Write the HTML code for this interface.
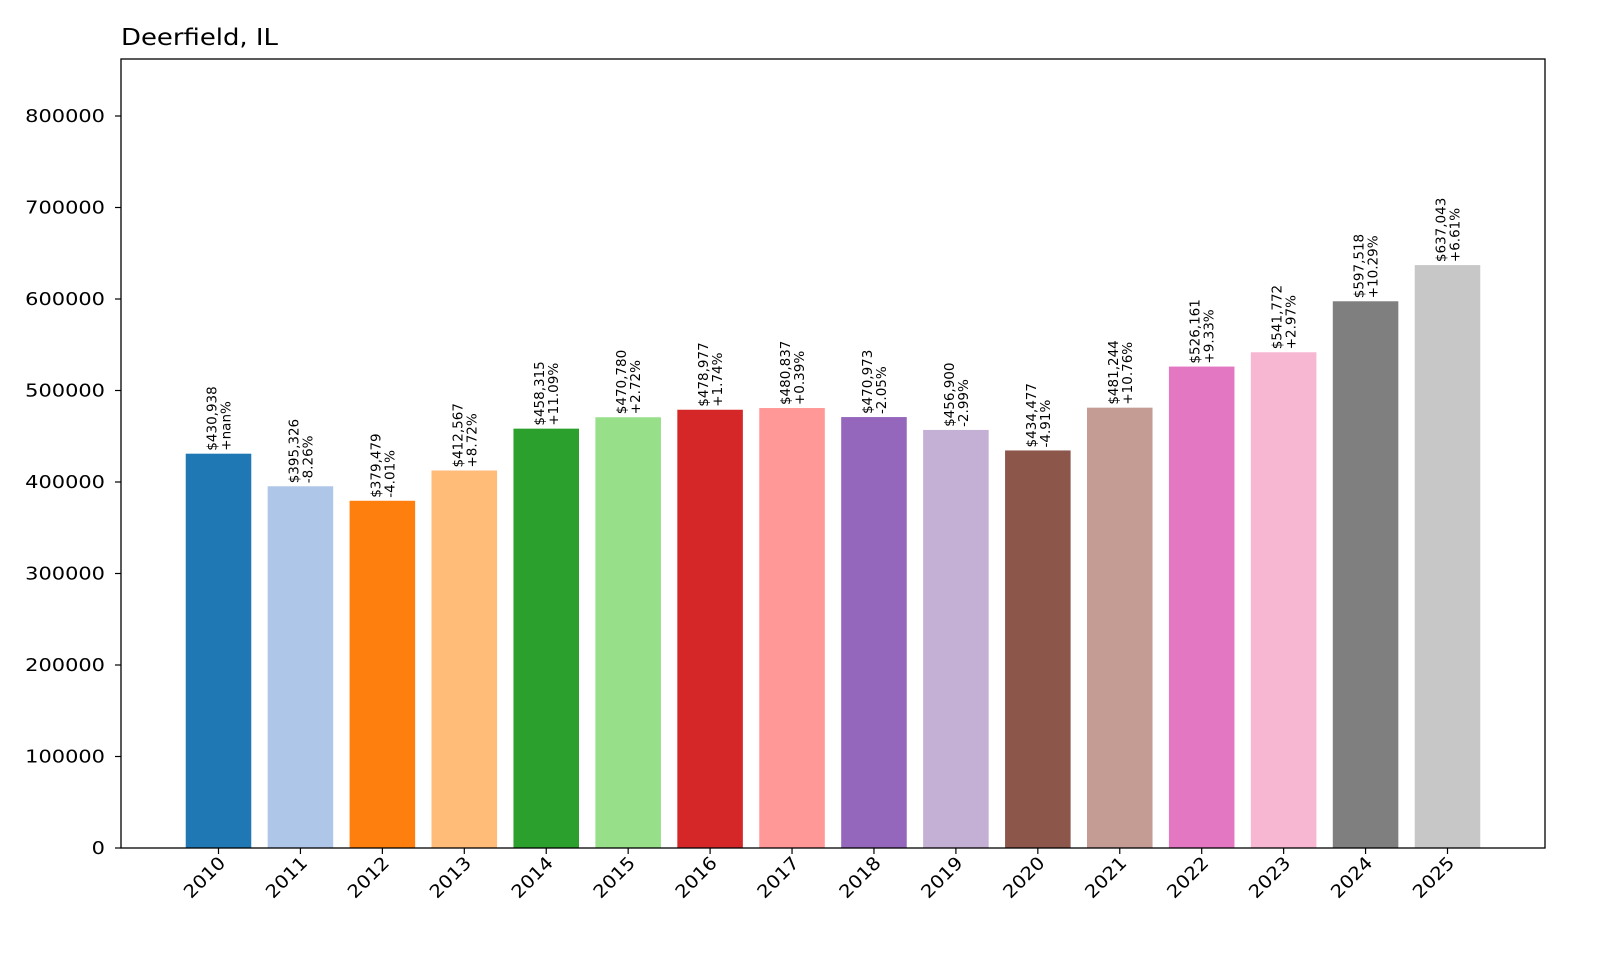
<!DOCTYPE html>
<html><head><meta charset="utf-8"><style>
body{margin:0;background:#fff;}
svg text{font-family:"DejaVu Sans","Liberation Sans",sans-serif;}
</style></head><body>
<svg id="chart" width="1600" height="960" xmlns="http://www.w3.org/2000/svg">
<rect width="1600" height="960" fill="#fff"/>
<text x="121" y="45" font-size="23" fill="#000" textLength="157" lengthAdjust="spacingAndGlyphs">Deerfield, IL</text>
<g id="plot"></g>
<rect x="121" y="59" width="1424" height="789" fill="none" stroke="#000" stroke-width="1.3"/>
</svg>
<script>
const years=["2010","2011","2012","2013","2014","2015","2016","2017","2018","2019","2020","2021","2022","2023","2024","2025"];
const values=[430938,395326,379479,412567,458315,470780,478977,480837,470973,456900,434477,481244,526161,541772,597518,637043];
const changes=["+nan%","-8.26%","-4.01%","+8.72%","+11.09%","+2.72%","+1.74%","+0.39%","-2.05%","-2.99%","-4.91%","+10.76%","+9.33%","+2.97%","+10.29%","+6.61%"];
const yTicks=[0,100000,200000,300000,400000,500000,600000,700000,800000];
const colors=["#1f77b4","#aec7e8","#ff7f0e","#ffbb78","#2ca02c","#98df8a","#d62728","#ff9896","#9467bd","#c5b0d5","#8c564b","#c49c94","#e377c2","#f7b6d2","#7f7f7f","#c7c7c7"];
const L=121,R=1545,T=59,B=848;
const x0=-1.19,x1=16.19;
const yMax=(B-T)/(732/800000);
const sx=v=>L+(v-x0)/(x1-x0)*(R-L);
const sy=v=>B-v/yMax*(B-T);
const g=document.getElementById('plot');
const NS="http://www.w3.org/2000/svg";
function mk(t,a){const e=document.createElementNS(NS,t);for(const k in a)e.setAttribute(k,a[k]);return e;}
yTicks.forEach(v=>{
  const y=sy(v);
  const tk=mk('line',{x1:L-6,x2:L,y1:y,y2:y,stroke:'#000','stroke-width':1.2});
  
  
  g.appendChild(tk);
  const s=String(v);
  const t=mk('text',{x:L-16,y:y+6,'text-anchor':'end','font-size':18,textLength:s.length*13.3,lengthAdjust:'spacingAndGlyphs'});
  
  
  t.textContent=s;g.appendChild(t);
});
const bw=0.8*(R-L)/(x1-x0);
years.forEach((yr,i)=>{
  const cx=sx(i),top=sy(values[i]);
  const r=mk('rect',{x:cx-bw/2,y:top,width:bw,height:B-top,fill:colors[i]});
  
  
  g.appendChild(r);
  const tk=mk('line',{x1:cx,x2:cx,y1:B,y2:B+6,stroke:'#000','stroke-width':1.2});
  
  
  g.appendChild(tk);
  const xl=mk('text',{'text-anchor':'end','font-size':18,transform:`translate(${cx+8},${B+16}) rotate(-45)`,textLength:50,lengthAdjust:'spacingAndGlyphs'});
  
  
  xl.textContent=yr;g.appendChild(xl);
  const lb=mk('text',{'font-size':13.5,'text-anchor':'start',transform:`translate(${cx},${top-3}) rotate(-90)`});
  
  
  const t1=mk('tspan',{x:0,dy:-2});t1.textContent='$'+values[i].toLocaleString('en-US');
  const t2=mk('tspan',{x:0,dy:14});t2.textContent=changes[i];
  lb.appendChild(t1);lb.appendChild(t2);g.appendChild(lb);
});
</script>
</body></html>
